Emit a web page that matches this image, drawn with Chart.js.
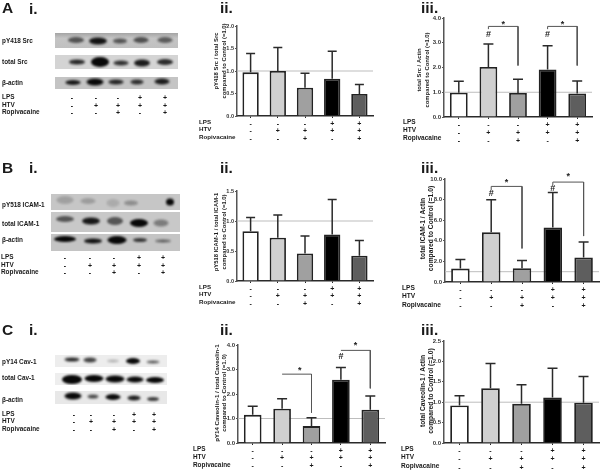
<!DOCTYPE html>
<html><head><meta charset="utf-8">
<script src="https://cdn.jsdelivr.net/npm/chart.js@4"></script>
<style>
html,body{margin:0;padding:0;background:#fff;width:600px;height:470px;overflow:hidden}
#fig{position:relative;width:600px;height:470px;font-family:"Liberation Sans",Arial,sans-serif;color:#1a1a1a}
#fig canvas{position:absolute;display:block}
.t{position:absolute;white-space:nowrap;transform:translateY(-50%);font-weight:bold;line-height:1;opacity:.999;will-change:transform}
</style></head><body><div id="fig"></div>
<script>
// ---- treatment rows ----
const lps=['-','-','-','+','+'];
const htv=['-','+','+','+','+'];
const rop=['-','-','+','-','+'];
const barColours=['#ffffff','#d0d0d0','#a0a0a0','#000000','#5e5e5e'];
// ---- bar means and upper error limits ----
const aiiMean=[0.97,1.0,0.63,0.83,0.49];
const aiiTop=[1.39,1.52,0.95,1.44,0.70];
const aiiiMean=[0.98,2.02,0.97,1.92,0.95];
const aiiiTop=[1.44,2.95,1.53,2.88,1.45];
const biiMean=[0.83,0.72,0.46,0.775,0.42];
const biiTop=[1.06,1.10,0.75,1.36,0.675];
const biiiMean=[1.3,4.82,1.33,5.28,2.38];
const biiiTop=[2.18,7.98,2.08,8.7,3.88];
const ciiMean=[1.15,1.4,0.69,2.58,1.36];
const ciiTop=[1.5,1.81,1.03,3.08,1.92];
const ciiiMean=[0.92,1.34,0.96,1.115,0.985];
const ciiiTop=[1.16,1.95,1.43,1.83,1.63];
// ---- blot band density (0..1) per lane ----
const aBlot1=[.6,.95,.6,.62,.55], aBlot2=[.85,1,.8,.9,.82], aBlot3=[.9,1,.85,.8,.9];
const bBlot1=[.2,.22,.14,.3,1], bBlot2=[.6,.92,.6,1,.4], bBlot3=[1,.95,1,.75,.55];
const cBlot1=[.85,.75,.25,1,.65], cBlot2=[1,1,1,1,1], cBlot3=[1,.7,.98,.9,.75];

const fig=document.getElementById('fig');
const FONT='"Liberation Sans",Arial,sans-serif';
function text(s,x,y,size){const d=document.createElement('div');d.className='t';d.textContent=s;
  d.style.left=x+'px';d.style.top=y+'px';d.style.fontSize=size+'px';fig.appendChild(d);}
function cv(l,t,w,h){const c=document.createElement('canvas');c.width=w;c.height=h;
  c.style.left=l+'px';c.style.top=t+'px';c.style.width=w+'px';c.style.height=h+'px';fig.appendChild(c);return c;}

// panel headings
[['A',2,8],['i.',29,9],['ii.',220,8],['iii.',421,8],
 ['B',2,167.5],['i.',29,168],['ii.',220,168],['iii.',421,168],
 ['C',2,330],['i.',29,330],['ii.',220,330],['iii.',421,330]].forEach(a=>text(a[0],a[1],a[2],15.5));

// ---- western blot strips, drawn as scatter charts with a soft band as point style ----
function band(w,h,d){const p=5,c=document.createElement('canvas');c.width=w+2*p;c.height=h+2*p;
  const x=c.getContext('2d');x.filter='blur(1.1px)';x.fillStyle='rgba(8,8,8,'+d+')';
  x.beginPath();x.ellipse(c.width/2,c.height/2,w/2,h/2,0,0,7);x.fill();return c;}
function strip(l,t,r,b,bg,dens,xs,ys,ws,hs){
  const w=r-l,h=b-t,c=cv(l,t,w,h);c.style.background=bg;
  const pts=dens.map((d,i)=>({x:xs[i]-l,y:ys[i]-t}));
  const imgs=dens.map((d,i)=>band(ws[i],hs[i],d));
  new Chart(c,{type:'scatter',data:{datasets:[{data:pts,pointStyle:imgs,pointRadius:1,clip:false}]},
   options:{responsive:false,animation:false,events:[],layout:{padding:0,autoPadding:false},
    plugins:{legend:{display:false},tooltip:{enabled:false}},
    scales:{x:{display:false,min:0,max:w},y:{display:false,min:0,max:h,reverse:true}}}});
}
const bgA1='linear-gradient(#a4a4a4,#c4c4c4 35%,#c0c0c0)';
strip(55,33,178,48,bgA1,aBlot1,[76,98,120,141,165],[40,41,41,40,40],[16,18,14,15,15],[6,7,5,6,6]);
strip(55,55,178,69,'#d4d4d4',aBlot2,[77,100,121,142,165],[62,62,63,63,62],[16,18,15,16,16],[5,10,5,7,6]);
strip(55,77,178,89,'#c4c4c4',aBlot3,[73,95,116,137,162],[82.5,82,82,82,81.5],[15,17,15,13,15],[5,7,5,5,6]);
strip(51,194,180,210,'#c6c6c6',bBlot1,[65,88,113,131,170],[200,201,203,203,202],[17,15,13,14,8],[8,6,8,5,7]);
strip(51,212,180,232,'#c8c8c8',bBlot2,[65,91,115,139,161],[219,221,221,223,223],[18,18,16,18,15],[6,7,8,8,7]);
strip(51,234,180,251,'#c4c4c4',bBlot3,[65,93,117,140,163],[239,241,240,240,241],[22,18,19,14,16],[6,5,8,4,3]);
strip(55,355,167,367,'#ededed',cBlot1,[72,90,113,133,153],[359.5,360,361,361,362],[15,13,12,14,13],[4,5,3,6,3]);
strip(55,373,167,385,'#eeeeee',cBlot2,[72,94,115,135,155],[379.5,378.5,379,379.5,380],[20,19,19,17,18],[9,7,7,6,6]);
strip(55,391,167,404,'#e8e8e8',cBlot3,[73,93,113,134,153],[396,396.5,397,398,399],[17,11,15,13,12],[7,4,6,5,4]);

[['pY418 Src',41],['total Src',62],['β-actin',83],
 ['pY518 ICAM-1',205],['total ICAM-1',224],['β-actin',240],
 ['pY14 Cav-1',362],['total Cav-1',378],['β-actin',400]].forEach(a=>text(a[0],1.5,a[1],6.4));

function rows(x,ys,size){['LPS','HTV','Ropivacaine'].forEach((s,i)=>text(s,x,ys[i],size));}
function signs(xs,ys){[lps,htv,rop].forEach((row,j)=>row.forEach((s,i)=>{
  const d=document.createElement('div');d.className='t';d.textContent=s;d.style.left=xs[i]+'px';d.style.top=ys[j]+'px';
  d.style.fontSize='7px';d.style.transform='translate(-50%,-50%)';fig.appendChild(d);}));}
rows(2,[97,104.5,112],6.4);signs([72,96,118,140,165],[97,104.5,112]);
rows(1,[257,265,272],6.4);signs([65,90,114,139,163],[257,265,272]);
rows(1.5,[414,421,429],6.4);signs([74,91,114,134,154],[414,421,429]);

// ---- bar charts ----
const marks={id:'marks',
 beforeDatasetsDraw(ch){const c=ch.ctx,a=ch.chartArea,y=ch.scales.y.getPixelForValue(1);
  c.save();c.strokeStyle='#bdbdbd';c.lineWidth=1;c.beginPath();c.moveTo(a.left,y);c.lineTo(a.right,y);c.stroke();c.restore();},
 afterDatasetsDraw(ch){const o=ch.options.plugins.marks,c=ch.ctx,m=ch.getDatasetMeta(0),sy=ch.scales.y,sx=ch.scales.xb;
  c.save();c.strokeStyle='#2a2a2a';c.lineWidth=1.5;
  o.top.forEach((v,i)=>{const x=m.data[i].x,yT=sy.getPixelForValue(v),yB=m.data[i].y;
    c.beginPath();c.moveTo(x,yB);c.lineTo(x,yT);c.moveTo(x-o.cap,yT);c.lineTo(x+o.cap,yT);c.stroke();});
  c.fillStyle='#222';c.font='bold 9px '+FONT;c.textAlign='center';c.textBaseline='middle';
  o.notes.forEach(n=>c.fillText(n[0],sx.getPixelForValue(n[1]),sy.getPixelForValue(n[2])+(n[0]==='*'?2:0)));
  c.restore();}};

function barChart(p){
 const yw=p.L-p.titleX, padT=11, padR=4, xh=30;
 const c=cv(p.titleX,p.T-padT,p.R-p.L+yw+padR,p.B-p.T+padT+xh);
 const cats=lps.map((s,i)=>[s,htv[i],rop[i]]);
 const ds=[{type:'bar',data:p.mean,xAxisID:'x',yAxisID:'y',backgroundColor:barColours,borderColor:'#222',borderWidth:1.8,
   barPercentage:.6,categoryPercentage:1,grouped:false,order:2}];
 (p.brackets||[]).forEach(b=>ds.push({type:'scatter',showLine:true,data:b,xAxisID:'xb',yAxisID:'y',
   borderColor:'#555',borderWidth:1,pointRadius:0,order:1,tension:0,clip:false}));
 new Chart(c,{data:{labels:cats,datasets:ds},
  options:{responsive:false,animation:false,events:[],layout:{autoPadding:false,padding:{top:padT,right:padR,left:0,bottom:0}},
   plugins:{legend:{display:false},tooltip:{enabled:false},marks:{top:p.top,cap:p.cap,notes:p.notes||[]}},
   scales:{
    x:{type:'category',offset:true,afterFit(s){s.height=xh;},
       border:{color:'#2a2a2a',width:1.5},
       grid:{display:true,drawOnChartArea:false,drawTicks:true,tickLength:2,offset:false,color:'#2a2a2a'},
       ticks:{autoSkip:false,maxRotation:0,minRotation:0,padding:p.xpad,color:'#1a1a1a',
         font:{family:FONT,size:7,weight:'bold',lineHeight:p.gap+'px'}}},
    xb:{type:'linear',display:false,min:-.5,max:4.5},
    y:{type:'linear',min:0,max:p.max,
       afterFit(s){s.width=yw;
         if(!s._shifted){s._shifted=true;const draw=s.drawTitle;
           s.drawTitle=function(){const k=s.ctx;k.save();k.translate(0,p.tshift);draw.call(s);k.restore();};}},
       border:{color:'#555',width:1.5},
       grid:{display:true,drawOnChartArea:false,drawTicks:true,tickLength:2,color:'#555'},
       ticks:{stepSize:p.step,padding:1,color:'#333',callback:v=>v.toFixed(1),font:{family:FONT,size:p.tick,weight:'bold'}},
       title:{display:true,text:p.title,color:'#1a1a1a',padding:0,font:{family:FONT,size:p.tsize,weight:'bold',lineHeight:1.25}}}
   }},plugins:[marks]});
 rows(p.rowX,p.rows,p.rsize);
}
barChart({L:237,T:26,R:373,B:116,titleX:213,max:2,step:.5,tick:5.5,tsize:5.9,tshift:-10,cap:4.5,gap:7.5,xpad:2,
 mean:aiiMean,top:aiiTop,title:['pY418 Src / total Src','compared to Control (=1.0)'],rowX:199,rows:[122,129,136.7],rsize:6.2});
barChart({L:444,T:18,R:592,B:117,titleX:416,max:4,step:1,tick:6,tsize:5.9,tshift:2.5,cap:5,gap:7.9,xpad:2,
 mean:aiiiMean,top:aiiiTop,title:['total Src / Actin','compared to Control (=1.0)'],rowX:403,rows:[122.3,130,138],rsize:6.5,
 brackets:[[{x:1,y:3.55},{x:1,y:3.66},{x:2,y:3.66},{x:2,y:2.08}],[{x:3,y:3.55},{x:3,y:3.66},{x:4,y:3.66},{x:4,y:2.08}]],
 notes:[['*',1.5,3.8],['#',1,3.32],['*',3.5,3.8],['#',3,3.32]]});
barChart({L:237,T:191,R:373,B:281,titleX:213,max:1.5,step:.5,tick:5.5,tsize:5.9,tshift:-4,cap:4.5,gap:7.5,xpad:2,
 mean:biiMean,top:biiTop,title:['pY518 ICAM-1 / total ICAM-1','compared to Control (=1.0)'],rowX:199,rows:[286.7,294,301.7],rsize:6.2});
barChart({L:445,T:179,R:599,B:282,titleX:419,max:10,step:2,tick:6,tsize:6.7,tshift:-2,cap:5,gap:8.2,xpad:2,
 mean:biiiMean,top:biiiTop,title:['total ICAM-1 / Actin','compared to Control (=1.0)'],rowX:402,rows:[288,296,304.7],rsize:6.6,
 brackets:[[{x:1,y:8.9},{x:1,y:9.28},{x:2,y:9.28},{x:2,y:3.26}],[{x:3,y:9.4},{x:3,y:9.7},{x:4,y:9.7},{x:4,y:4.46}]],
 notes:[['*',1.5,9.9],['#',1,8.6],['*',3.5,10.4],['#',3,9.1]]});
barChart({L:238,T:345,R:385,B:443,titleX:213,max:4,step:1,tick:6,tsize:6.1,tshift:-1,cap:5,gap:7.7,xpad:2,
 mean:ciiMean,top:ciiTop,title:['pY14 Caveolin-1 / total Caveolin-1','compared to Control (=1.0)'],rowX:193,rows:[449.3,457,464.7],rsize:6.4,
 brackets:[[{x:1,y:2.81},{x:2,y:2.81},{x:2,y:1.24}],[{x:3,y:3.78},{x:4,y:3.78},{x:4,y:2.23}]],
 notes:[['*',1.6,3.04],['#',3,3.55],['*',3.5,4.05]]});
barChart({L:444,T:341,R:599,B:443,titleX:419,max:2.5,step:.5,tick:6,tsize:6.7,tshift:-1,cap:5,gap:8.3,xpad:2,
 mean:ciiiMean,top:ciiiTop,title:['total Caveolin-1 / Actin','compared to Control (=1.0)'],rowX:401,rows:[449,457.3,465.7],rsize:6.5});
</script></body></html>
